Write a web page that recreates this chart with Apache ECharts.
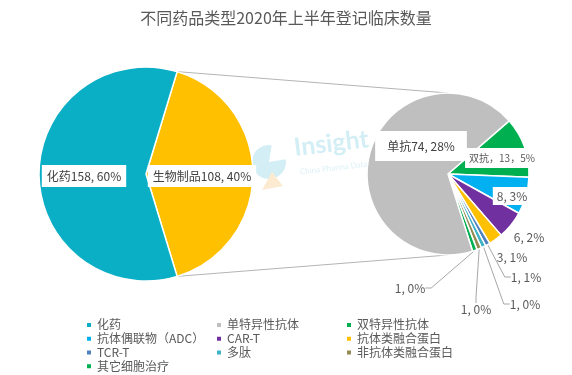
<!DOCTYPE html>
<html>
<head>
<meta charset="utf-8">
<script src="https://cdn.jsdelivr.net/npm/echarts@6/dist/echarts.min.js"></script>
<style>html,body{margin:0;padding:0;background:#fff}#c{width:572px;height:375px}</style>
</head>
<body>
<div id="c"></div>
<script>
// ---- data ----
var title = '不同药品类型2020年上半年登记临床数量';
var mainNames = ['生物制品', '化药'];
var mainValues = [108, 158];
var mainPct = [40, 60];

var subNames = ['双特异性抗体', '抗体偶联物（ADC）', 'CAR-T', '抗体类融合蛋白', 'TCR-T', '多肽', '非抗体类融合蛋白', '其它细胞治疗', '单特异性抗体'];
var subPrefix = ['双抗，', '', '', '', '', '', '', '', '单抗'];
var subValues = [13, 8, 6, 3, 1, 1, 1, 1, 74];
var subPct = [5, 3, 2, 1, 1, 0, 0, 0, 28];

var legendCols = [
  ['化药', '抗体偶联物（ADC）', 'TCR-T', '其它细胞治疗'],
  ['单特异性抗体', 'CAR-T', '多肽'],
  ['双特异性抗体', '抗体类融合蛋白', '非抗体类融合蛋白']
];

// ---- styles / layout ----
var mainColors = ['#FFC000', '#0AAFC6'];
var subColors = ['#00B050', '#00B0F0', '#7030A0', '#FFC000', '#4F81BD', '#3FB2C8', '#948A54', '#00B050', '#BFBFBF'];
var L = {cx: 146, cy: 174, r: 107};
var R = {cx: 448, cy: 174, r: 81};
var mainLabelPos = [[202, 176], [84, 176]];
var subLabelPos = [[502, 158], [512, 196], [529, 237], [512, 257], [526, 277], [525, 304], [476, 309], [410, 288], [421, 146]];
var subInside = [true, true, false, false, false, false, false, false, true];
var FONT = '"Noto Sans CJK SC", "Noto Sans", sans-serif';

var total = mainValues.reduce(function (a, b) { return a + b; }, 0);
var halfAngle = 360 * mainValues[0] / total / 2;

var mainData = mainNames.map(function (n, i) {
  return {
    name: n, value: mainValues[i],
    itemStyle: {color: mainColors[i]},
    label: {formatter: n + mainValues[i] + ', ' + mainPct[i] + '%'}
  };
});

var subData = subNames.map(function (n, i) {
  var inside = subInside[i];
  var lbl = {
    formatter: subPrefix[i] + subValues[i] + (i === 0 ? '，' : ', ') + subPct[i] + '%',
    position: inside ? 'inside' : 'outside',
    color: '#595959',
    fontSize: 12
  };
  if (i === 8) {
    lbl.backgroundColor = '#fff'; lbl.padding = [9, 12]; lbl.color = '#404040';
  } else if (i === 0) {
    lbl.backgroundColor = '#fff'; lbl.padding = [5, 4]; lbl.fontSize = 10;
  } else if (i === 1) {
    lbl.backgroundColor = '#fff'; lbl.padding = [3, 4];
  }
  return {
    name: n, value: subValues[i],
    itemStyle: {color: subColors[i]},
    label: lbl,
    labelLine: {show: !inside && i >= 4}
  };
});

var a = halfAngle * Math.PI / 180;
var p1 = [L.cx + L.r * Math.cos(a), L.cy - L.r * Math.sin(a)];
var p2 = [L.cx + L.r * Math.cos(a), L.cy + L.r * Math.sin(a)];

var legends = legendCols.map(function (col, k) {
  return {
    data: col,
    orient: 'vertical',
    left: [85, 215, 345][k],
    top: 318,
    height: 90,
    padding: 0,
    itemWidth: 6,
    itemHeight: 6,
    itemGap: 0,
    icon: 'rect',
    selectedMode: false,
    textStyle: {fontSize: 12, color: '#595959', fontFamily: FONT, lineHeight: 13.8}
  };
});

var chart = echarts.init(document.getElementById('c'), null, {renderer: 'canvas'});
chart.setOption({
  animation: false,
  title: {
    text: title, left: 'center', top: 5,
    textStyle: {fontSize: 16, fontWeight: 'normal', color: '#595959', fontFamily: FONT}
  },
  legend: legends,
  graphic: [
    {type: 'line', shape: {x1: p1[0], y1: p1[1], x2: R.cx, y2: R.cy - R.r}, style: {stroke: '#B4B4B4', lineWidth: 1}, z: 0},
    {type: 'line', shape: {x1: p2[0], y1: p2[1], x2: R.cx, y2: R.cy + R.r}, style: {stroke: '#B4B4B4', lineWidth: 1}, z: 0},
    {type: 'sector', shape: {cx: 269, cy: 162, r: 17, startAngle: -Math.PI * 0.05, endAngle: Math.PI * 1.55}, style: {fill: '#D3EEF5'}, z: 0},
    {type: 'polygon', shape: {points: [[262, 190], [272, 172], [283, 186]]}, style: {fill: '#FCEBD0'}, z: 0},
    {type: 'text', x: 294, y: 148, rotation: 0.12, style: {text: 'Insight', font: 'bold 25px Lato, sans-serif', fill: '#D3EEF5', textVerticalAlign: 'middle'}, z: 0},
    {type: 'text', x: 300, y: 172, rotation: 0.12, style: {text: 'China Pharma Data', font: '8px Lato, sans-serif', fill: '#DDF1F7', textVerticalAlign: 'middle'}, z: 0}
  ],
  series: [
    {
      type: 'pie',
      center: [L.cx, L.cy],
      radius: L.r,
      startAngle: halfAngle,
      clockwise: true,
      avoidLabelOverlap: false,
      itemStyle: {borderColor: '#fff', borderWidth: 1.5},
      label: {
        position: 'inside', fontSize: 12, color: '#404040', fontFamily: FONT,
        backgroundColor: '#fff', padding: [5, 5]
      },
      labelLayout: function (p) {
        var pos = mainLabelPos[p.dataIndex];
        return {x: pos[0], y: pos[1], align: 'center', verticalAlign: 'middle'};
      },
      emphasis: {disabled: true},
      data: mainData
    },
    {
      type: 'pie',
      center: [R.cx, R.cy],
      radius: R.r,
      startAngle: 41,
      clockwise: true,
      avoidLabelOverlap: false,
      itemStyle: {borderColor: '#fff', borderWidth: 1.5},
      label: {fontFamily: FONT},
      labelLine: {length: 10, length2: 6, lineStyle: {color: '#A6A6A6', width: 1}},
      labelLayout: function (p) {
        var pos = subLabelPos[p.dataIndex];
        return {x: pos[0], y: pos[1], align: 'center', verticalAlign: 'middle'};
      },
      emphasis: {disabled: true},
      data: subData
    }
  ]
});
</script>
</body>
</html>
